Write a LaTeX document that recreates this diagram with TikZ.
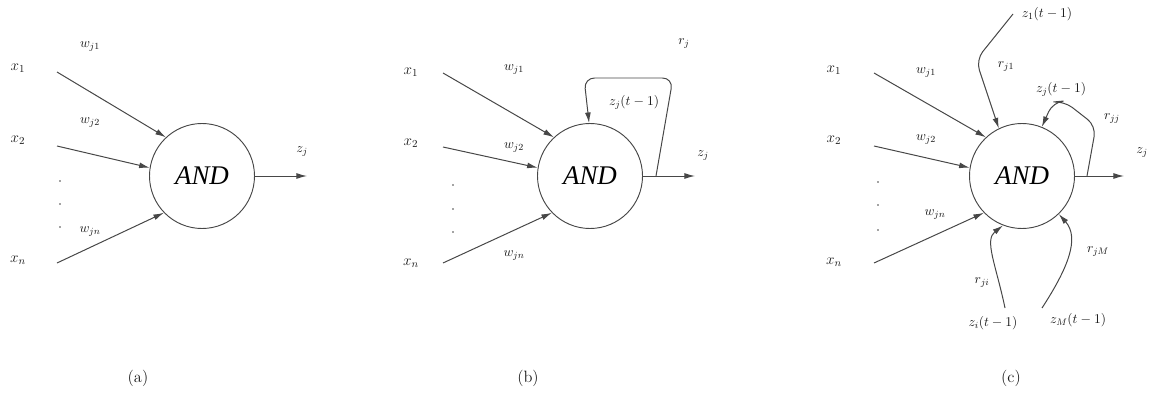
\RequirePackage{fix-cm}
\documentclass[tikz,border=0pt]{standalone}
\usepackage{fontspec}
\setmainfont{Liberation Serif}
\newfontfamily\capfont{Latin Modern Roman}
\usetikzlibrary{arrows.meta}
\definecolor{linec}{HTML}{474747}
\definecolor{txt}{HTML}{1A1A1A}
\begin{document}
\begin{tikzpicture}[x=0.03cm,y=-0.03cm,
  neuron/.style={circle,draw=linec,line width=0.8pt,minimum size=3.15cm,inner sep=0pt,
    font=\fontsize{23}{25}\selectfont\itshape,text=black},
  conn/.style={draw=linec,line width=0.85pt,-{Latex[length=9pt,width=5pt]}},
  fb/.style={conn,rounded corners=9pt},
  inlab/.style={font=\fontsize{13}{15}\selectfont,text=txt,inner sep=1pt},
  wlab/.style={font=\fontsize{11.5}{13}\selectfont,text=txt,inner sep=1pt},
  zlab/.style={font=\fontsize{11.5}{13}\selectfont,text=txt,inner sep=1pt},
  sublab/.style={font=\capfont\fontsize{14}{16}\selectfont,text=txt},
  dotn/.style={circle,fill=linec,inner sep=0pt,minimum size=1.6pt}
]
\useasboundingbox (0,0) rectangle (1149,394);

% ---------------- (a) ----------------
\node[neuron] (na) at (202,176) {AND};
\node[inlab] (xa1) at (18,68) {$x_1$};
\node[inlab] (xa2) at (18,140) {$x_2$};
\node[inlab] (xan) at (18,260) {$x_n$};
\coordinate (sa1) at (57,72);
\coordinate (sa2) at (57,146);
\coordinate (san) at (57,263);
\draw[conn] (sa1) -- (na.133);
\draw[conn] (sa2) -- (na.171);
\draw[conn] (san) -- (na.224);
\node[wlab] (wa1) at (90,47) {$w_{j1}$};
\node[wlab] (wa2) at (90,123) {$w_{j2}$};
\node[wlab] (wan) at (90,232) {$w_{jn}$};
\node[dotn] (da1) at (60,181) {};
\node[dotn] (da2) at (60,204) {};
\node[dotn] (da3) at (60,227) {};
\coordinate (oa) at (307,176);
\draw[conn] (na.0) -- (oa);
\node[zlab] (za) at (302,152) {$z_j$};
\node[sublab] (ca) at (138,378) {(a)};

% ---------------- (b) ----------------
\node[neuron] (nb) at (590,176) {AND};
\node[inlab] (xb1) at (411,72) {$x_1$};
\node[inlab] (xb2) at (411,143) {$x_2$};
\node[inlab] (xbn) at (411,263) {$x_n$};
\coordinate (sb1) at (443,73);
\coordinate (sb2) at (443,147);
\coordinate (sbn) at (443,263);
\draw[conn] (sb1) -- (nb.133);
\draw[conn] (sb2) -- (nb.171);
\draw[conn] (sbn) -- (nb.224);
\node[wlab] (wb1) at (514,70) {$w_{j1}$};
\node[wlab] (wb2) at (514,148) {$w_{j2}$};
\node[wlab] (wbn) at (514,256) {$w_{jn}$};
\node[dotn] (db1) at (453,185) {};
\node[dotn] (db2) at (453,209) {};
\node[dotn] (db3) at (453,232) {};
\coordinate (ob) at (695,176);
\coordinate (fbb) at (656,176);
\draw[conn] (nb.0) -- (ob);
\draw[fb] (fbb) -- (673,78) -- (584,78) -- (nb.91);
\node[zlab] (zb) at (703,156) {$z_j$};
\node[wlab] (rb) at (684,44) {$r_j$};
\node[zlab] (zbf) at (634,102) {$z_j(t-1)$};
\node[sublab] (cb) at (528,378) {(b)};

% ---------------- (c) ----------------
\node[neuron] (nc) at (1022,176) {AND};
\node[inlab] (xc1) at (834,70) {$x_1$};
\node[inlab] (xc2) at (834,140) {$x_2$};
\node[inlab] (xcn) at (834,262) {$x_n$};
\coordinate (sc1) at (874,73);
\coordinate (sc2) at (874,146);
\coordinate (scn) at (874,263);
\draw[conn] (sc1) -- (nc.133);
\draw[conn] (sc2) -- (nc.171);
\draw[conn] (scn) -- (nc.224);
\node[wlab] (wc1) at (926,73) {$w_{j1}$};
\node[wlab] (wc2) at (926,140) {$w_{j2}$};
\node[wlab] (wcn) at (935,215) {$w_{jn}$};
\node[dotn] (dc1) at (878,182) {};
\node[dotn] (dc2) at (878,205) {};
\node[dotn] (dc3) at (878,230) {};
\coordinate (oc) at (1124,176);
\coordinate (fbc) at (1087,176);
\draw[conn] (nc.0) -- (oc);
\node[zlab] (zc) at (1142,153) {$z_j$};
% self feedback
\draw[fb] (fbc) -- (1096,126) -- (1064,101) -- (1053,102) -- (nc.68);
\node[zlab] (zcf) at (1061,89) {$z_j(t-1)$};
\node[wlab] (rjj) at (1112,119) {$r_{jj}$};
% from z_1
\coordinate (s1) at (1013,14);
\draw[fb] (s1) -- (976,60) -- (nc.116);
\node[zlab] (z1) at (1047,14) {$z_1(t-1)$};
\node[wlab] (rj1) at (1006,67) {$r_{j1}$};
% from z_i
\coordinate (si) at (1005,308);
\draw[conn] (si) .. controls (996,265) and (984,240) .. (nc.249);
\node[zlab] (zi) at (993,323) {$z_i(t-1)$};
\node[wlab] (rji) at (982,283) {$r_{ji}$};
% from z_M
\coordinate (sM) at (1042,308);
\draw[conn] (sM) .. controls (1068,268) and (1080,238) .. (nc.314);
\node[zlab] (zM) at (1078,320) {$z_M(t-1)$};
\node[wlab] (rjM) at (1098,252) {$r_{jM}$};
\node[sublab] (cc) at (1011,378) {(c)};
\end{tikzpicture}
\end{document}
